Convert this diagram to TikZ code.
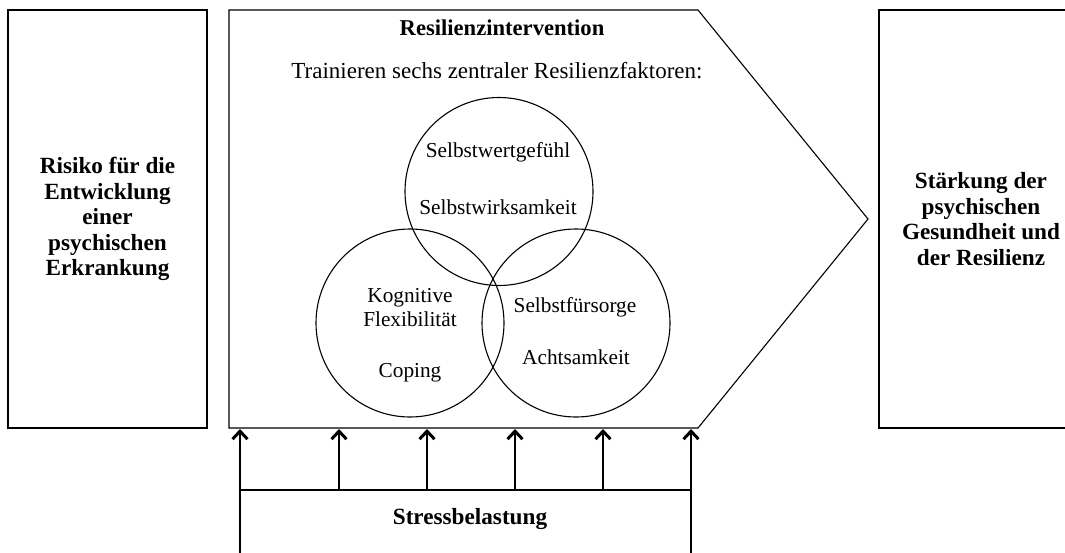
\documentclass[tikz,border=0pt]{standalone}
\usepackage{fontspec}
\setmainfont{Liberation Serif}
\usetikzlibrary{arrows.meta}
\begin{document}
\begin{tikzpicture}[x=1pt,y=-1pt,line width=1.1pt,
  txt/.style={font=\fontsize{21.3}{24}\selectfont,inner sep=0pt,align=center},
  lead/.style={font=\fontsize{23}{25.5}\selectfont,inner sep=0pt,align=center},
  bold/.style={font=\fontsize{22.6}{25.5}\selectfont\bfseries,inner sep=0pt,align=center},
  box/.style={draw,rectangle,inner sep=0pt,font=\fontsize{23.2}{25.6}\selectfont\bfseries,align=center},
  factor/.style={draw,circle,minimum size=188pt,inner sep=0pt},
  lift/.style={-{Straight Barb[length=8pt,width=15pt,line width=3pt]}}]
\useasboundingbox (0,0) rectangle (1065,552);

% outer boxes
\node[box,minimum width=199pt,minimum height=418pt] (risk) at (107.5,219)
  {Risiko für die\\Entwicklung\\einer\\psychischen\\Erkrankung};
\node[box,minimum width=204pt,minimum height=418pt] (gain) at (981,219)
  {Stärkung der\\psychischen\\Gesundheit und\\der Resilienz};

% intervention arrow shape
\draw (229,10) coordinate (p1) -- (698,10) coordinate (p2) -- (868,219) coordinate (p3)
  -- (698,428) coordinate (p4) -- (229,428) coordinate (p5) -- cycle;
\node[bold] (title) at (502,28) {Resilienzintervention};
\node[lead] (sub) at (497,71) {Trainieren sechs zentraler Resilienzfaktoren:};

% resilience factors
\node[factor] (ctop) at (499,191.5) {};
\node[factor] (cleft) at (410,323) {};
\node[factor] (cright) at (576,323) {};
\node[txt] (f1) at (498,152) {Selbstwertgefühl};
\node[txt] (f2) at (498,207) {Selbstwirksamkeit};
\node[txt] (f3) at (410,308) {Kognitive\\Flexibilität};
\node[txt] (f4) at (410,373) {Coping};
\node[txt] (f5) at (575,307) {Selbstfürsorge};
\node[txt] (f6) at (576,357) {Achtsamkeit};

% stress input
\foreach \i/\x in {1/240,2/339,3/427,4/515,5/603,6/691}{
  \coordinate (t\i) at (\x,429);
  \coordinate (s\i) at (\x,490);
}
\coordinate (b1) at (240,560);
\coordinate (b6) at (691,560);
\draw (s1) -- (s6);
\draw[lift] (b1) -- (t1);
\draw[lift] (b6) -- (t6);
\foreach \i in {2,3,4,5}{\draw[lift] (s\i) -- (t\i);}
\node[box,draw=none] (stress) at (470,519) {Stressbelastung};
\end{tikzpicture}
\end{document}
